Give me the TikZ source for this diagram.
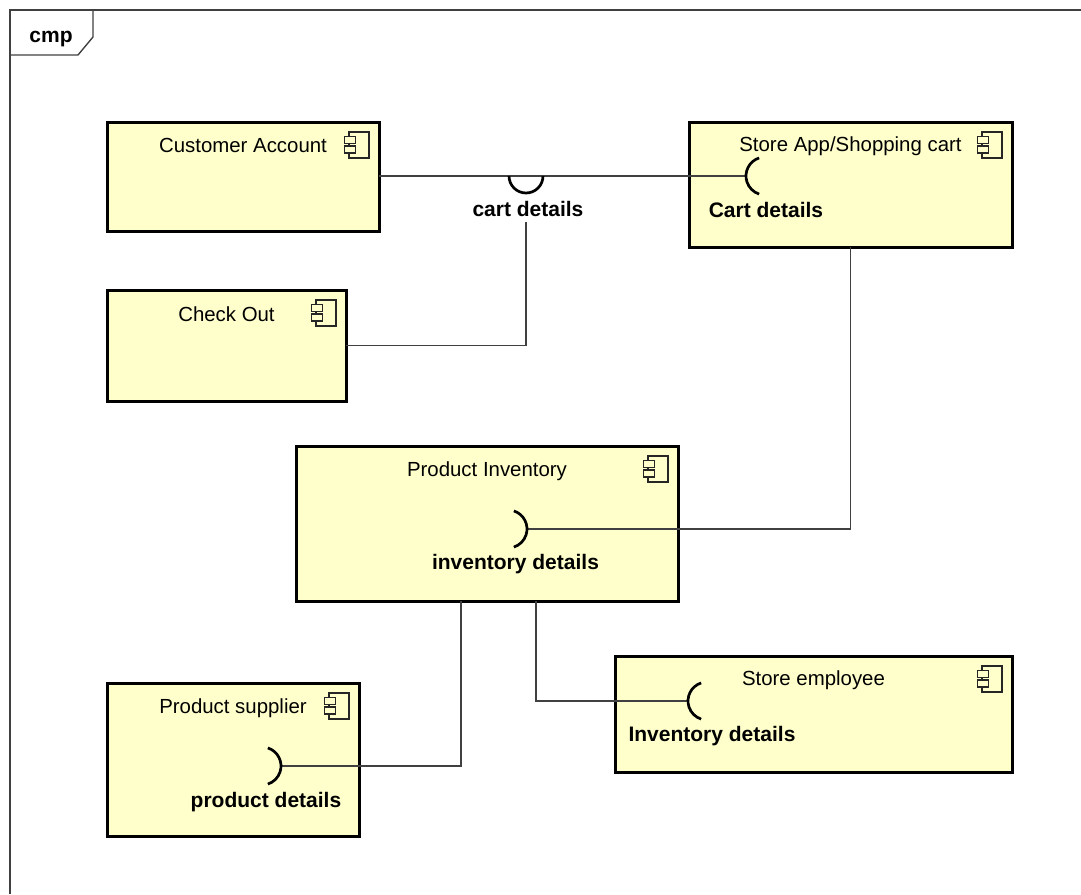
\documentclass[tikz,border=0pt]{standalone}
\usepackage{fontspec}
\setmainfont{Liberation Sans}
\definecolor{boxfill}{RGB}{255,255,204}
\definecolor{wiregray}{RGB}{64,64,64}
\definecolor{framegray}{RGB}{64,64,64}
\begin{document}
\begin{tikzpicture}[x=1pt,y=1pt,
  comp/.style={draw=black, line width=3pt, fill=boxfill, anchor=north west,
               inner sep=0pt, outer sep=0pt},
  ctitle/.style={font=\fontsize{20.4}{24}\selectfont, anchor=base, inner sep=0pt},
  iflabel/.style={font=\fontsize{21}{25}\selectfont\bfseries, anchor=base, inner sep=0pt},
  wire/.style={draw=wiregray, line width=1.7pt},
  socket/.style={draw=black, line width=2.7pt},
  frameline/.style={draw=framegray, line width=1.4pt},
  iconline/.style={draw=black!85, line width=1.1pt},
  compicon/.pic={
    \draw[iconline, fill=boxfill] (-20,0) rectangle (0,-26);
    \draw[iconline, fill=boxfill] (-24.5,-4.5) rectangle (-13.5,-11.5);
    \draw[iconline, fill=boxfill] (-24.5,-14) rectangle (-13.5,-21);
  }]
\useasboundingbox (0,0) rectangle (1081,-894);

% diagram frame with its name tab
\draw[frameline] (10,-894) -- (10,-10) -- (1081,-10);
\draw[frameline] (10,-10) -- (93,-10) -- (93,-37) -- (78,-55) -- (10,-55);
\node[iflabel] (frame-name) at (51,-42) {cmp};

% components
\node[comp, minimum width=272pt, minimum height=109pt] (ca) at (107,-122) {};
\node[comp, minimum width=323pt, minimum height=125pt] (sa) at (689,-122) {};
\node[comp, minimum width=239pt, minimum height=111pt] (co) at (107,-290) {};
\node[comp, minimum width=382pt, minimum height=155pt] (pi) at (296,-446) {};
\node[comp, minimum width=252pt, minimum height=153pt] (ps) at (107,-683) {};
\node[comp, minimum width=397pt, minimum height=116pt] (se) at (615,-656) {};

% component names
\node[ctitle] (ca-title) at ([yshift=-30pt]ca.north) {Customer Account};
\node[ctitle] (sa-title) at ([yshift=-29pt]sa.north) {Store App/Shopping cart};
\node[ctitle] (co-title) at ([yshift=-31pt]co.north) {Check Out};
\node[ctitle] (pi-title) at ([yshift=-30pt]pi.north) {Product Inventory};
\node[ctitle] (ps-title) at ([yshift=-30pt]ps.north) {Product supplier};
\node[ctitle] (se-title) at ([yshift=-29pt]se.north) {Store employee};

% component icons
\foreach \c in {ca,sa,co,pi,ps,se}
  \pic at ([shift={(-10,-10)}]\c.north east) {compicon};

% interface labels
\node[iflabel] (cd-lbl) at (528,-216) {cart details};
\node[iflabel] (sa-lbl) at (766,-217) {Cart details};
\node[iflabel] (pi-lbl) at (515.5,-569) {inventory details};
\node[iflabel] (ps-lbl) at (266,-807) {product details};
\node[iflabel] (se-lbl) at (712,-741) {Inventory details};

% socket centres and tips
\coordinate (sk-cart) at (765,-176);
\coordinate (tip-cart) at (746,-176);
\coordinate (sk-cd) at (526,-176);
\coordinate (cd-foot) at (526,-222);
\coordinate (sk-inv) at (508,-529);
\coordinate (tip-inv) at (527,-529);
\coordinate (sk-prod) at (262,-766);
\coordinate (tip-prod) at (281,-766);
\coordinate (sk-emp) at (707,-701);
\coordinate (tip-emp) at (688,-701);

% connectors
\draw[wire] (ca.east |- tip-cart) -- (tip-cart);
\draw[wire] (cd-foot) |- (co.east);
\draw[wire] (sa.south) |- (tip-inv);
\draw[wire] (pi.south west) ++(165,0) |- (tip-prod);
\draw[wire] (pi.south west) ++(240,0) |- (tip-emp);

% sockets
\draw[socket] ([shift={(108:19)}]sk-cart) arc[start angle=108, end angle=252, radius=19pt];
\draw[socket] ([shift={(180:17)}]sk-cd) arc[start angle=180, end angle=360, radius=17pt];
\draw[socket] ([shift={(72:19)}]sk-inv) arc[start angle=72, end angle=-72, radius=19pt];
\draw[socket] ([shift={(72:19)}]sk-prod) arc[start angle=72, end angle=-72, radius=19pt];
\draw[socket] ([shift={(108:19)}]sk-emp) arc[start angle=108, end angle=252, radius=19pt];
\end{tikzpicture}
\end{document}
